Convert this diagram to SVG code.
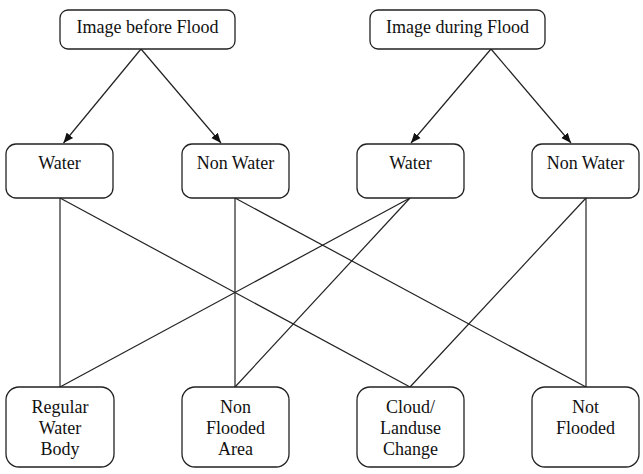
<svg xmlns="http://www.w3.org/2000/svg" width="643" height="474" viewBox="0 0 643 474">
<style>
.box{fill:#fff;stroke:#222;stroke-width:1.3}
.t{font-family:"Liberation Serif","Times New Roman",serif;font-size:18px;fill:#111;text-anchor:middle}
.c{stroke:#222;stroke-width:1.2;fill:none}
</style>
<defs>
<marker id="ah" viewBox="0 0 10 10" refX="10" refY="5" markerWidth="10" markerHeight="10" markerUnits="userSpaceOnUse" orient="auto">
<path d="M0,0.8 L10,5 L0,9.2 z" fill="#111"/>
</marker>
</defs>
<rect width="643" height="474" fill="#fff"/>
<g id="connectors">
<line class="c" x1="141" y1="49" x2="63.5" y2="143" marker-end="url(#ah)"/>
<line class="c" x1="141" y1="49" x2="221" y2="143" marker-end="url(#ah)"/>
<line class="c" x1="491" y1="49" x2="411" y2="143" marker-end="url(#ah)"/>
<line class="c" x1="491" y1="49" x2="571" y2="143" marker-end="url(#ah)"/>
<line class="c" x1="60" y1="198" x2="60" y2="387"/>
<line class="c" x1="60" y1="198" x2="410" y2="387"/>
<line class="c" x1="235" y1="198" x2="235" y2="387"/>
<line class="c" x1="235" y1="198" x2="586" y2="387"/>
<line class="c" x1="410" y1="198" x2="60" y2="387"/>
<line class="c" x1="410" y1="198" x2="235" y2="387"/>
<line class="c" x1="586" y1="198" x2="586" y2="387"/>
<line class="c" x1="586" y1="198" x2="410" y2="387"/>
</g>
<g id="before"><rect class="box" x="60" y="10" width="175" height="39" rx="8"/><text class="t" x="147.5" y="33">Image before Flood</text></g>
<g id="during"><rect class="box" x="370" y="10" width="175" height="39" rx="8"/><text class="t" x="457.5" y="33">Image during Flood</text></g>
<g id="water1"><rect class="box" x="6" y="144" width="107" height="54" rx="10"/><text class="t" x="59.5" y="169">Water</text></g>
<g id="nonwater1"><rect class="box" x="182" y="144" width="107" height="54" rx="10"/><text class="t" x="235.5" y="169">Non Water</text></g>
<g id="water2"><rect class="box" x="357" y="144" width="107" height="54" rx="10"/><text class="t" x="410.5" y="169">Water</text></g>
<g id="nonwater2"><rect class="box" x="532" y="144" width="107" height="54" rx="10"/><text class="t" x="585.5" y="169">Non Water</text></g>
<g id="regular"><rect class="box" x="6" y="387" width="108" height="80" rx="13"/><text class="t" x="60" y="413">Regular</text><text class="t" x="60" y="434">Water</text><text class="t" x="60" y="455">Body</text></g>
<g id="nonflooded"><rect class="box" x="182" y="387" width="107" height="80" rx="13"/><text class="t" x="235.5" y="413">Non</text><text class="t" x="235.5" y="434">Flooded</text><text class="t" x="235.5" y="455">Area</text></g>
<g id="cloud"><rect class="box" x="357" y="387" width="107" height="80" rx="13"/><text class="t" x="410.5" y="413">Cloud/</text><text class="t" x="410.5" y="434">Landuse</text><text class="t" x="410.5" y="455">Change</text></g>
<g id="notflooded"><rect class="box" x="532" y="387" width="107" height="80" rx="13"/><text class="t" x="585.5" y="413">Not</text><text class="t" x="585.5" y="434">Flooded</text></g>
</svg>
